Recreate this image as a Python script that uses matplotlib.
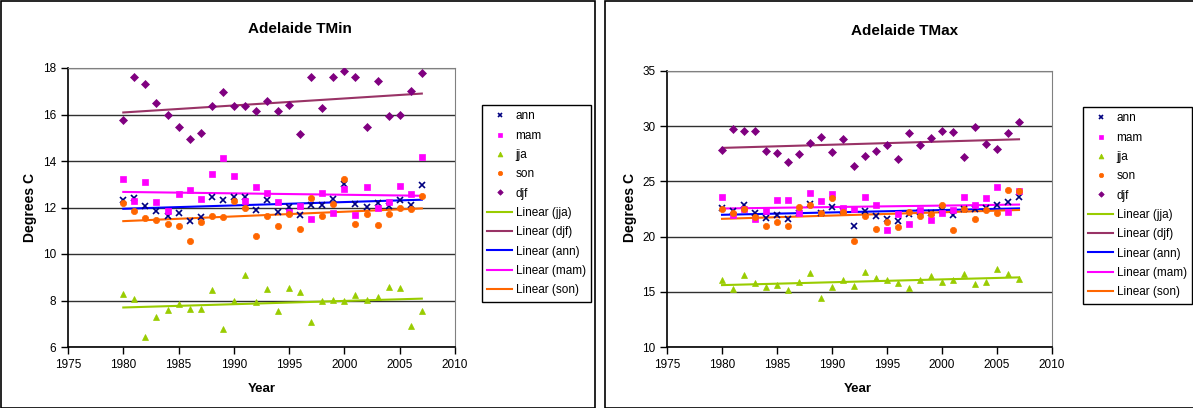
import numpy as np
import matplotlib
matplotlib.use("Agg")
import matplotlib.pyplot as plt
from matplotlib.patches import Rectangle

plt.rcParams['font.family'] = ['Liberation Sans', 'DejaVu Sans']

years = list(range(1980, 2008))

# ---- Adelaide TMin ----
tmin_ann = [12.34, 12.43, 12.08, 11.84, 11.65, 11.78, 11.44, 11.61, 12.44, 12.34, 12.44, 12.44, 11.90, 12.32,
            11.81, 12.02, 11.69, 12.09, 12.09, 12.35, 12.99, 12.14, 12.01, 12.20, 12.08, 12.34, 12.09, 12.97]
tmin_mam = [13.23, 12.28, 13.09, 12.22, 11.85, 12.58, 12.77, 12.35, 13.46, 14.15, 13.34, 12.30, 12.87, 12.63,
            12.22, 11.82, 12.08, 11.52, 12.61, 11.78, 12.81, 11.66, 12.90, 11.99, 12.25, 12.94, 12.56, 14.19]
tmin_jja = [8.26, 8.06, 6.42, 7.27, 7.60, 7.86, 7.64, 7.64, 8.44, 6.76, 7.97, 9.09, 7.93, 8.50,
            7.55, 8.53, 8.36, 7.08, 8.00, 8.03, 8.00, 8.22, 8.03, 8.14, 8.57, 8.53, 6.89, 7.55]
tmin_son = [12.21, 11.84, 11.53, 11.48, 11.31, 11.22, 10.57, 11.36, 11.62, 11.58, 12.28, 11.97, 10.76, 11.65,
            11.19, 11.71, 11.07, 12.43, 11.62, 12.17, 13.23, 11.29, 11.74, 11.26, 11.74, 11.97, 11.92, 12.51]
tmin_djf = [15.76, 17.63, 17.30, 16.50, 15.97, 15.47, 14.93, 15.19, 16.36, 16.98, 16.38, 16.38, 16.13, 16.60,
            16.13, 16.39, 15.14, 17.60, 16.28, 17.60, 17.88, 17.60, 15.47, 17.44, 15.95, 15.99, 17.01, 17.77]

# ---- Adelaide TMax ----
tmax_ann = [22.57, 22.30, 22.82, 22.15, 21.67, 21.97, 21.55, 22.15, 22.97, 22.12, 22.66, 22.36, 20.94, 22.30,
            21.85, 21.55, 21.40, 22.09, 22.27, 22.15, 22.43, 22.00, 22.51, 22.46, 22.57, 22.88, 23.12, 23.63]
tmax_mam = [23.57, 21.97, 22.46, 21.55, 22.30, 23.33, 23.33, 22.15, 23.96, 23.18, 23.87, 22.57, 22.46, 23.57,
            22.82, 20.62, 22.09, 21.16, 22.43, 21.52, 22.15, 22.40, 23.63, 22.82, 23.50, 24.48, 22.25, 24.09]
tmax_jja = [16.11, 15.21, 16.48, 15.79, 15.39, 15.63, 15.18, 15.93, 16.72, 14.48, 15.48, 16.11, 15.57, 16.81,
            16.24, 16.11, 15.82, 15.30, 16.11, 16.42, 15.88, 16.03, 16.57, 15.72, 15.88, 17.02, 16.57, 16.20]
tmax_son = [22.51, 22.15, 22.51, 21.76, 20.92, 21.28, 20.92, 22.66, 22.82, 22.12, 23.51, 22.27, 19.56, 21.88,
            20.67, 21.28, 20.89, 22.24, 21.91, 22.06, 22.82, 20.58, 22.51, 21.58, 22.43, 22.12, 24.24, 24.09]
tmax_djf = [27.86, 29.76, 29.61, 29.55, 27.71, 27.59, 26.74, 27.50, 28.50, 29.04, 27.64, 28.86, 26.35, 27.26,
            27.71, 28.34, 27.01, 29.40, 28.34, 28.95, 29.55, 29.46, 27.20, 29.94, 28.40, 27.89, 29.34, 30.40]

series_names = ["ann", "mam", "jja", "son", "djf"]
trend_order = ["jja", "djf", "ann", "mam", "son"]
colors = {"ann": "#000080", "mam": "#FF00FF", "jja": "#99CC00", "son": "#FF6600", "djf": "#800080"}
trend_colors = {"ann": "#0000FF", "mam": "#FF00FF", "jja": "#99CC00", "son": "#FF6600", "djf": "#993366"}
markers = {"ann": "x", "mam": "s", "jja": "^", "son": "o", "djf": "D"}
msizes = {"ann": 4.5, "mam": 4.5, "jja": 5, "son": 4.5, "djf": 4}

W, H = 1193, 408
fig = plt.figure(figsize=(W / 100, H / 100), dpi=100)


def px_axes(x0, y0, x1, y1):
    return fig.add_axes([x0 / W, 1 - y1 / H, (x1 - x0) / W, (y1 - y0) / H])


def draw(ax, data, ylim, yticks, title, title_xy, ylab_x, xlab_xy, legend_xy):
    x = np.array(years)
    handles = []
    for name in series_names:
        h, = ax.plot(x, data[name], linestyle='none', marker=markers[name],
                     color=colors[name], markersize=msizes[name],
                     markeredgewidth=1.2 if name == "ann" else 0.5, label=name, zorder=3)
        handles.append(h)
    for name in trend_order:
        k, b = np.polyfit(x, data[name], 1)
        h, = ax.plot([x[0], x[-1]], [k * x[0] + b, k * x[-1] + b], color=trend_colors[name],
                     linewidth=1.5, label="Linear (%s)" % name, zorder=2)
        handles.append(h)
    ax.set_xlim(1975, 2010)
    ax.set_xticks(range(1975, 2011, 5))
    ax.set_ylim(*ylim)
    ax.set_yticks(yticks)
    ax.yaxis.grid(True, color='#303030', linewidth=1)
    ax.set_axisbelow(True)
    for s in ['top', 'right']:
        ax.spines[s].set_color('#808080')
    for s in ['left', 'bottom']:
        ax.spines[s].set_color('black')
        ax.spines[s].set_linewidth(1.2)
    ax.tick_params(axis='both', direction='out', length=5, labelsize=8.5, width=1)
    ax.tick_params(axis='x', pad=4)
    fig.text(title_xy[0] / W, 1 - title_xy[1] / H, title, ha='center', va='center',
             fontsize=11, fontweight='bold')
    fig.text(ylab_x / W, 1 - 207 / H, "Degrees C", rotation=90, ha='center', va='center',
             fontsize=10, fontweight='bold')
    fig.text(xlab_xy[0] / W, 1 - xlab_xy[1] / H, "Year", ha='center', va='center',
             fontsize=9.5, fontweight='bold')
    leg = fig.legend(handles=handles, loc='upper left',
                     bbox_to_anchor=(legend_xy[0] / W, 1 - legend_xy[1] / H),
                     fontsize=8.5, frameon=True, fancybox=False, framealpha=1,
                     edgecolor='black', borderpad=0.45, labelspacing=0.62,
                     handlelength=2.1, handletextpad=0.3, borderaxespad=0, markerscale=0.7)
    leg.get_frame().set_linewidth(1.0)


ax1 = px_axes(68, 68, 455, 347)
draw(ax1, {"ann": tmin_ann, "mam": tmin_mam, "jja": tmin_jja, "son": tmin_son, "djf": tmin_djf},
     (6, 18), range(6, 19, 2), "Adelaide TMin", (300, 29), 30, (262, 389), (482, 105))

ax2 = px_axes(667, 71, 1052, 347)
draw(ax2, {"ann": tmax_ann, "mam": tmax_mam, "jja": tmax_jja, "son": tmax_son, "djf": tmax_djf},
     (10, 35), range(10, 36, 5), "Adelaide TMax", (905, 31), 630, (858, 389), (1083, 107))

# panel borders
fig.patches.append(Rectangle((0.5 / W, 0.5 / H), 594 / W, 406.5 / H, transform=fig.transFigure,
                             fill=False, edgecolor='black', linewidth=1.2))
fig.patches.append(Rectangle((605 / W, 0.5 / H), 600 / W, 406.5 / H, transform=fig.transFigure,
                             fill=False, edgecolor='black', linewidth=1.2))

fig.savefig("out.png", dpi=100)
